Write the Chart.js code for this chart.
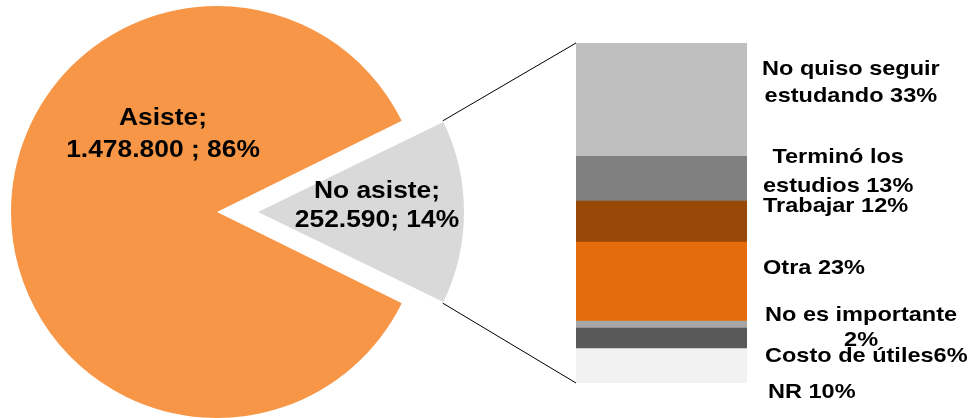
<!DOCTYPE html>
<html>
<head>
<meta charset="utf-8">
<script src="https://cdn.jsdelivr.net/npm/chart.js@4.4.1/dist/chart.umd.min.js"></script>
<style>
  html, body { margin: 0; padding: 0; background: #fff; overflow: hidden; }
  #wrap { position: relative; width: 973px; height: 418px; }
  canvas { position: absolute; }
  #barChart { left: 576px; top: 43px; }
  #pieChart { left: 0; top: 0; }
</style>
</head>
<body>
<div id="wrap">
  <canvas id="barChart" width="171" height="340"></canvas>
  <canvas id="pieChart" width="973" height="418"></canvas>
</div>
<script>
// pie: attendance
const pieLabels = ['No asiste', 'Asiste'];
const pieValues = [252590, 1478800];
const pieColors = ['#D9D9D9', '#F79646'];
const pieLabelLines = [['No asiste;', '252.590; 14%'], ['Asiste;', '1.478.800 ; 86%']];

// bar: reasons for not attending (top to bottom)
const reasonNames = ['No quiso seguir estudando', 'Terminó los estudios', 'Trabajar', 'Otra', 'No es importante', 'Costo de útiles', 'NR'];
const reasonValues = [33, 13, 12, 23, 2, 6, 10];
const reasonColors = ['#BFBFBF', '#808080', '#984807', '#E46C0A', '#A6A6A6', '#595959', '#F2F2F2'];
const reasonLabelLines = [
  ['No quiso seguir', 'estudando 33%'],
  ['Terminó los', 'estudios 13%'],
  ['Trabajar 12%'],
  ['Otra 23%'],
  ['No es importante', '2%'],
  ['Costo de útiles6%'],
  ['NR 10%']
];

// label placement
const pieLabelPos = [[377, [191, 220.5]], [163, [118.5, 150]]];
const reasonLabelPos = [[762, [69, 96]], [763, [157, 186]], [763, [206]], [763, [268]], [765, [315, 340]], [765, [356]], [768, [392]]];
const barLeft = 576, barTop = 43;
const explode = 41;

const total = pieValues.reduce((a, b) => a + b, 0);
const reasonTotal = reasonValues.reduce((a, b) => a + b, 0);

const barChart = new Chart(document.getElementById('barChart'), {
  type: 'bar',
  data: {
    labels: ['No asiste'],
    datasets: reasonNames.map((n, i) => ({
      label: n,
      data: [reasonValues[i]],
      backgroundColor: reasonColors[i],
      borderWidth: 0,
      barPercentage: 1,
      categoryPercentage: 1
    })).reverse()
  },
  options: {
    responsive: false,
    animation: false,
    events: [],
    layout: { padding: 0 },
    plugins: { legend: { display: false }, tooltip: { enabled: false } },
    scales: {
      x: { stacked: true, display: false },
      y: { stacked: true, display: false, min: 0, max: reasonTotal }
    }
  }
});

function stretchedText(ctx, text, x, y, sx) {
  ctx.save();
  ctx.translate(x, y);
  ctx.scale(sx, 1);
  ctx.fillText(text, 0, 0);
  ctx.restore();
}

const pieExtras = {
  id: 'pieExtras',
  afterUpdate(chart) {
    // keep exploded slice at the same radius as the rest
    const arc = chart.getDatasetMeta(0).data[0];
    const fix = 1 - Math.sin(Math.min(Math.PI, arc.circumference));
    arc.outerRadius -= explode * fix;
  },
  afterDraw(chart) {
    const ctx = chart.ctx;
    const arc = chart.getDatasetMeta(0).data[0];
    const mid = (arc.startAngle + arc.endAngle) / 2;
    const tx = arc.x + Math.cos(mid) * explode;
    const ty = arc.y + Math.sin(mid) * explode;
    const r = arc.outerRadius + explode * (1 - Math.sin(Math.min(Math.PI, arc.circumference)));
    const area = barChart.chartArea;
    ctx.save();
    ctx.strokeStyle = '#000';
    ctx.lineWidth = 1;
    ctx.beginPath();
    ctx.moveTo(tx + Math.cos(arc.startAngle) * r, ty + Math.sin(arc.startAngle) * r);
    ctx.lineTo(barLeft + area.left, barTop + area.top);
    ctx.moveTo(tx + Math.cos(arc.endAngle) * r, ty + Math.sin(arc.endAngle) * r);
    ctx.lineTo(barLeft + area.left, barTop + area.bottom);
    ctx.stroke();

    ctx.fillStyle = '#000';
    ctx.textBaseline = 'middle';
    ctx.textAlign = 'center';
    ctx.font = 'bold 24px "Liberation Sans", Arial, sans-serif';
    pieLabelLines.forEach((lines, i) => {
      const [cx, ys] = pieLabelPos[i];
      lines.forEach((t, j) => stretchedText(ctx, t, cx, ys[j], 1.1));
    });

    ctx.font = 'bold 21px "Liberation Sans", Arial, sans-serif';
    const sx = 1.12;
    reasonLabelLines.forEach((lines, i) => {
      const [left, ys] = reasonLabelPos[i];
      const w = Math.max(...lines.map(t => ctx.measureText(t).width * sx));
      lines.forEach((t, j) => stretchedText(ctx, t, left + w / 2, ys[j], sx));
    });
    ctx.restore();
  }
};

new Chart(document.getElementById('pieChart'), {
  type: 'pie',
  data: {
    labels: pieLabels,
    datasets: [{
      data: pieValues,
      backgroundColor: pieColors,
      borderWidth: 0,
      offset: [explode * 4, 0]
    }]
  },
  options: {
    responsive: false,
    animation: false,
    events: [],
    radius: 206,
    rotation: 90 - 180 * pieValues[0] / total,
    layout: { padding: { left: 0, right: 539, top: 6, bottom: 0 } },
    plugins: { legend: { display: false }, tooltip: { enabled: false } }
  },
  plugins: [pieExtras]
});
</script>
</body>
</html>
